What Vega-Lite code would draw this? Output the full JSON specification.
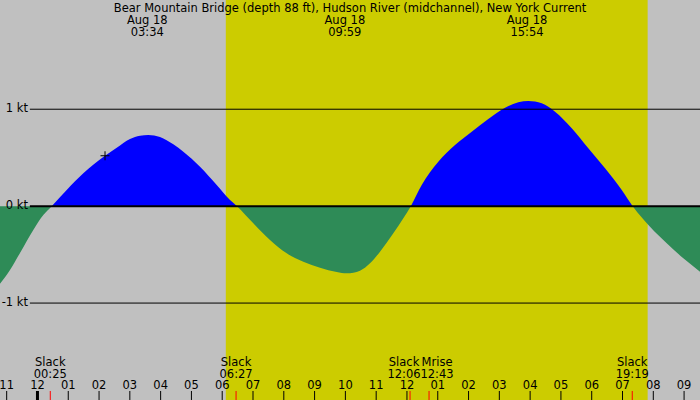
{
  "$schema": "https://vega.github.io/schema/vega-lite/v6.json",
  "description": "Tidal current prediction, Bear Mountain Bridge, Hudson River, Aug 18 (hours from midnight)",
  "width": 700,
  "height": 400,
  "padding": 0,
  "autosize": {"type": "none"},
  "background": "#c0c0c0",
  "config": {
    "view": {"stroke": null},
    "text": {"font": "DejaVu Sans", "fontSize": 11.5, "color": "black"}
  },
  "datasets": {
    "current": [
      {"hour": -1.2167, "speed": -0.80},
      {"hour": -0.892, "speed": -0.659},
      {"hour": -0.567, "speed": -0.483},
      {"hour": -0.135, "speed": -0.246},
      {"hour": 0.19, "speed": -0.091},
      {"hour": 0.4625, "speed": 0},
      {"hour": 0.95, "speed": 0.167},
      {"hour": 1.489, "speed": 0.339},
      {"hour": 2.194, "speed": 0.52},
      {"hour": 2.574, "speed": 0.603},
      {"hour": 3.005, "speed": 0.693},
      {"hour": 3.33, "speed": 0.727},
      {"hour": 3.6, "speed": 0.734},
      {"hour": 3.98, "speed": 0.713},
      {"hour": 4.412, "speed": 0.638},
      {"hour": 4.737, "speed": 0.562},
      {"hour": 5.279, "speed": 0.407},
      {"hour": 5.821, "speed": 0.218},
      {"hour": 6.253, "speed": 0.063},
      {"hour": 6.48, "speed": 0},
      {"hour": 7.01, "speed": -0.177},
      {"hour": 7.552, "speed": -0.349},
      {"hour": 8.094, "speed": -0.487},
      {"hour": 8.634, "speed": -0.573},
      {"hour": 9.176, "speed": -0.635},
      {"hour": 9.719, "speed": -0.679},
      {"hour": 10.043, "speed": -0.693},
      {"hour": 10.475, "speed": -0.666},
      {"hour": 10.8, "speed": -0.59},
      {"hour": 11.125, "speed": -0.47},
      {"hour": 11.557, "speed": -0.28},
      {"hour": 11.882, "speed": -0.125},
      {"hour": 12.125, "speed": 0},
      {"hour": 12.479, "speed": 0.218},
      {"hour": 13.018, "speed": 0.459},
      {"hour": 13.561, "speed": 0.631},
      {"hour": 14.103, "speed": 0.768},
      {"hour": 14.642, "speed": 0.899},
      {"hour": 15.185, "speed": 1.016},
      {"hour": 15.617, "speed": 1.071},
      {"hour": 15.942, "speed": 1.085},
      {"hour": 16.377, "speed": 1.061},
      {"hour": 16.809, "speed": 0.975},
      {"hour": 17.351, "speed": 0.803},
      {"hour": 17.89, "speed": 0.597},
      {"hour": 18.433, "speed": 0.39},
      {"hour": 18.975, "speed": 0.167},
      {"hour": 19.332, "speed": 0},
      {"hour": 19.894, "speed": -0.212},
      {"hour": 20.436, "speed": -0.383},
      {"hour": 20.975, "speed": -0.538},
      {"hour": 21.5167, "speed": -0.676}
    ],
    "extremes": [
      {"hour": 3.5667, "date": "Aug 18", "clock": "03:34", "speed": 0.734},
      {"hour": 9.9833, "date": "Aug 18", "clock": "09:59", "speed": -0.693},
      {"hour": 15.9, "date": "Aug 18", "clock": "15:54", "speed": 1.085}
    ],
    "events": [
      {"hour": 0.4167, "event": "Slack", "clock": "00:25"},
      {"hour": 6.45, "event": "Slack", "clock": "06:27"},
      {"hour": 12.1, "event": "Slack", "clock": "12:06"},
      {"hour": 12.7167, "event": "Mrise", "clock": "12:43"},
      {"hour": 19.3167, "event": "Slack", "clock": "19:19"}
    ],
    "hours": [
      {"hour": -1, "label": "11"}, {"hour": 0, "label": "12"}, {"hour": 1, "label": "01"},
      {"hour": 2, "label": "02"}, {"hour": 3, "label": "03"}, {"hour": 4, "label": "04"},
      {"hour": 5, "label": "05"}, {"hour": 6, "label": "06"}, {"hour": 7, "label": "07"},
      {"hour": 8, "label": "08"}, {"hour": 9, "label": "09"}, {"hour": 10, "label": "10"},
      {"hour": 11, "label": "11"}, {"hour": 12, "label": "12"}, {"hour": 13, "label": "01"},
      {"hour": 14, "label": "02"}, {"hour": 15, "label": "03"}, {"hour": 16, "label": "04"},
      {"hour": 17, "label": "05"}, {"hour": 18, "label": "06"}, {"hour": 19, "label": "07"},
      {"hour": 20, "label": "08"}, {"hour": 21, "label": "09"}
    ],
    "levels": [
      {"speed": 1, "label": "1 kt"},
      {"speed": 0, "label": "0 kt"},
      {"speed": -1, "label": "-1 kt"}
    ]
  },
  "layer": [
    {
      "data": {"values": [{"hour": 6.1167, "end": 19.8167}]},
      "mark": {"type": "rect", "color": "#cccc00"},
      "encoding": {
        "x": {
          "field": "hour",
          "type": "quantitative",
          "scale": {"domain": [-1.2167, 21.5167], "nice": false, "zero": false},
          "axis": null
        },
        "x2": {"field": "end"}
      }
    },
    {
      "data": {"name": "current"},
      "mark": {
        "type": "area",
        "interpolate": "monotone",
        "fill": {
          "gradient": "linear",
          "x1": 0, "y1": 0, "x2": 0, "y2": 1,
          "stops": [
            {"offset": 0.5756, "color": "#0000ff"},
            {"offset": 0.5756, "color": "#2e8b57"}
          ]
        }
      },
      "encoding": {
        "x": {"field": "hour", "type": "quantitative"},
        "y": {
          "field": "speed",
          "type": "quantitative",
          "scale": {"domain": [-2, 2.127], "nice": false, "zero": false},
          "axis": null
        },
        "y2": {"datum": 0}
      }
    },
    {
      "data": {"name": "levels"},
      "mark": {"type": "rule", "color": "black"},
      "encoding": {
        "x": {"datum": -0.2467},
        "x2": {"datum": 21.5167},
        "y": {"field": "speed", "type": "quantitative"},
        "strokeWidth": {"condition": {"test": "datum.speed === 0", "value": 2}, "value": 1}
      }
    },
    {
      "data": {"name": "levels"},
      "mark": {"type": "text", "align": "right", "baseline": "middle"},
      "encoding": {
        "x": {"datum": -0.3067},
        "y": {"field": "speed", "type": "quantitative"},
        "text": {"field": "label", "type": "nominal"}
      }
    },
    {
      "data": {"values": [{"hour": 2.194, "speed": 0.52}]},
      "mark": {"type": "point", "shape": "M-1,0L1,0M0,-1L0,1", "size": 81, "filled": false, "stroke": "black", "strokeWidth": 1, "opacity": 1},
      "encoding": {
        "x": {"field": "hour", "type": "quantitative"},
        "y": {"field": "speed", "type": "quantitative"}
      }
    },
    {
      "data": {"values": [{"title": "Bear Mountain Bridge (depth 88 ft), Hudson River (midchannel), New York Current"}]},
      "mark": {"type": "text", "align": "center", "baseline": "alphabetic"},
      "encoding": {
        "x": {"datum": 10.151},
        "y": {"datum": 2.007},
        "text": {"field": "title", "type": "nominal"}
      }
    },
    {
      "data": {"name": "extremes"},
      "transform": [{"calculate": "[datum.date, datum.clock]", "as": "label"}],
      "mark": {"type": "text", "align": "center", "baseline": "alphabetic", "lineHeight": 12},
      "encoding": {
        "x": {"field": "hour", "type": "quantitative"},
        "y": {"datum": 1.88},
        "text": {"field": "label", "type": "nominal"}
      }
    },
    {
      "data": {"name": "events"},
      "transform": [
        {"filter": "datum.clock !== '12:06' && datum.clock !== '12:43'"},
        {"calculate": "[datum.event, datum.clock]", "as": "label"}
      ],
      "mark": {"type": "text", "align": "center", "baseline": "alphabetic", "lineHeight": 12.3},
      "encoding": {
        "x": {"field": "hour", "type": "quantitative"},
        "y": {"datum": -1.649},
        "text": {"field": "label", "type": "nominal"}
      }
    },
    {
      "data": {"name": "events"},
      "transform": [
        {"filter": "datum.clock === '12:06'"},
        {"calculate": "[datum.event, datum.clock]", "as": "label"}
      ],
      "mark": {"type": "text", "align": "center", "baseline": "alphabetic", "lineHeight": 12.3, "dx": -6},
      "encoding": {
        "x": {"field": "hour", "type": "quantitative"},
        "y": {"datum": -1.649},
        "text": {"field": "label", "type": "nominal"}
      }
    },
    {
      "data": {"name": "events"},
      "transform": [
        {"filter": "datum.clock === '12:43'"},
        {"calculate": "[datum.event, datum.clock]", "as": "label"}
      ],
      "mark": {"type": "text", "align": "center", "baseline": "alphabetic", "lineHeight": 12.3, "dx": 8},
      "encoding": {
        "x": {"field": "hour", "type": "quantitative"},
        "y": {"datum": -1.649},
        "text": {"field": "label", "type": "nominal"}
      }
    },
    {
      "data": {"name": "hours"},
      "mark": {"type": "text", "align": "center", "baseline": "alphabetic"},
      "encoding": {
        "x": {"field": "hour", "type": "quantitative"},
        "y": {"datum": -1.888},
        "text": {"field": "label", "type": "nominal"}
      }
    },
    {
      "data": {"name": "hours"},
      "mark": {"type": "rule", "color": "black"},
      "encoding": {
        "x": {"field": "hour", "type": "quantitative"},
        "y": {"datum": -1.907},
        "y2": {"datum": -2},
        "strokeWidth": {"condition": {"test": "datum.hour === 0", "value": 3}, "value": 1}
      }
    },
    {
      "data": {"name": "events"},
      "mark": {"type": "rule", "color": "#ff0000", "strokeWidth": 1},
      "encoding": {
        "x": {"field": "hour", "type": "quantitative"},
        "y": {"datum": -1.907},
        "y2": {"datum": -2}
      }
    }
  ]
}
